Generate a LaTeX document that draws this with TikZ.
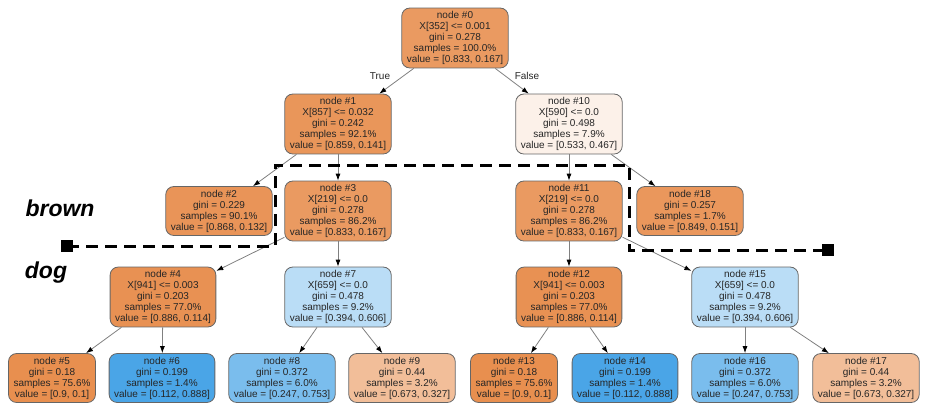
\documentclass[tikz,border=0pt]{standalone}
\usepackage{fontspec}
\setmainfont{Liberation Sans}
\usetikzlibrary{arrows.meta}
\definecolor{o80}{RGB}{234,154,97}
\definecolor{o84}{RGB}{233,150,90}
\definecolor{o85}{RGB}{233,148,88}
\definecolor{o82}{RGB}{234,151,92}
\definecolor{o87}{RGB}{232,145,83}
\definecolor{o89}{RGB}{232,143,79}
\definecolor{o51}{RGB}{242,190,153}
\definecolor{o12}{RGB}{252,241,233}
\definecolor{b35}{RGB}{186,221,246}
\definecolor{b67}{RGB}{122,189,237}
\definecolor{b87}{RGB}{74,165,231}
\tikzset{
  tnode/.style={draw=black!60, line width=0.8pt, rounded corners=8pt, align=center,
    inner xsep=5pt, inner ysep=3.3pt, font=\fontsize{10}{11}\selectfont, text=black!85},
  tedge/.style={draw=black!50, line width=0.8pt, -{Latex[length=7pt,width=5pt,color=black]}},
  elabel/.style={font=\fontsize{10}{11}\selectfont, text=black!85},
  sep/.style={draw=black, line width=3pt, dash pattern=on 12pt off 7pt},
  sq/.style={fill=black, minimum size=12pt, inner sep=0pt},
  word/.style={font=\fontsize{23}{23}\selectfont\bfseries\itshape}
}
\begin{document}
\begin{tikzpicture}[x=1pt,y=-1pt]
\useasboundingbox (0,0) rectangle (925,416);
\node[tnode, fill=o80] (n0) at (455,38) {node \#0\\X[352] <= 0.001\\gini = 0.278\\samples = 100.0\%\\value = [0.833, 0.167]};
\node[tnode, fill=o84] (n1) at (338,124) {node \#1\\X[857] <= 0.032\\gini = 0.242\\samples = 92.1\%\\value = [0.859, 0.141]};
\node[tnode, fill=o12] (n10) at (569,124) {node \#10\\X[590] <= 0.0\\gini = 0.498\\samples = 7.9\%\\value = [0.533, 0.467]};
\node[tnode, fill=o85] (n2) at (219,211) {node \#2\\gini = 0.229\\samples = 90.1\%\\value = [0.868, 0.132]};
\node[tnode, fill=o80] (n3) at (338,211) {node \#3\\X[219] <= 0.0\\gini = 0.278\\samples = 86.2\%\\value = [0.833, 0.167]};
\node[tnode, fill=o80] (n11) at (569,211) {node \#11\\X[219] <= 0.0\\gini = 0.278\\samples = 86.2\%\\value = [0.833, 0.167]};
\node[tnode, fill=o82] (n18) at (690,211) {node \#18\\gini = 0.257\\samples = 1.7\%\\value = [0.849, 0.151]};
\node[tnode, fill=o87] (n4) at (163,297) {node \#4\\X[941] <= 0.003\\gini = 0.203\\samples = 77.0\%\\value = [0.886, 0.114]};
\node[tnode, fill=b35] (n7) at (338,297) {node \#7\\X[659] <= 0.0\\gini = 0.478\\samples = 9.2\%\\value = [0.394, 0.606]};
\node[tnode, fill=o87] (n12) at (569,297) {node \#12\\X[941] <= 0.003\\gini = 0.203\\samples = 77.0\%\\value = [0.886, 0.114]};
\node[tnode, fill=b35] (n15) at (745,297) {node \#15\\X[659] <= 0.0\\gini = 0.478\\samples = 9.2\%\\value = [0.394, 0.606]};
\node[tnode, fill=o89] (n5) at (52,378) {node \#5\\gini = 0.18\\samples = 75.6\%\\value = [0.9, 0.1]};
\node[tnode, fill=b87] (n6) at (162,378) {node \#6\\gini = 0.199\\samples = 1.4\%\\value = [0.112, 0.888]};
\node[tnode, fill=b67] (n8) at (282,378) {node \#8\\gini = 0.372\\samples = 6.0\%\\value = [0.247, 0.753]};
\node[tnode, fill=o51] (n9) at (402,378) {node \#9\\gini = 0.44\\samples = 3.2\%\\value = [0.673, 0.327]};
\node[tnode, fill=o89] (n13) at (514,378) {node \#13\\gini = 0.18\\samples = 75.6\%\\value = [0.9, 0.1]};
\node[tnode, fill=b87] (n14) at (625,378) {node \#14\\gini = 0.199\\samples = 1.4\%\\value = [0.112, 0.888]};
\node[tnode, fill=b67] (n16) at (745,378) {node \#16\\gini = 0.372\\samples = 6.0\%\\value = [0.247, 0.753]};
\node[tnode, fill=o51] (n17) at (866,378) {node \#17\\gini = 0.44\\samples = 3.2\%\\value = [0.673, 0.327]};
\draw[tedge] (n0) -- (n1);
\draw[tedge] (n0) -- (n10);
\node[elabel] (lTrue) at (380,76) {True};
\node[elabel] (lFalse) at (527,76) {False};
\draw[tedge] (n1) -- (n2);
\draw[tedge] (n1) -- (n3);
\draw[tedge] (n10) -- (n11);
\draw[tedge] (n10) -- (n18);
\draw[tedge] (n3) -- (n4);
\draw[tedge] (n3) -- (n7);
\draw[tedge] (n11) -- (n12);
\draw[tedge] (n11) -- (n15);
\draw[tedge] (n4) -- (n5);
\draw[tedge] (n4) -- (n6);
\draw[tedge] (n7) -- (n8);
\draw[tedge] (n7) -- (n9);
\draw[tedge] (n12) -- (n13);
\draw[tedge] (n12) -- (n14);
\draw[tedge] (n15) -- (n16);
\draw[tedge] (n15) -- (n17);
\node[sq] (sqL) at (67,246) {};
\node[sq] (sqR) at (828,250) {};
\draw[sep] (sqL.center) -- (275,246) -- (275,165) -- (629,165) -- (629,250) -- (sqR.center);
\node[word] (brown) at (60,208) {brown};
\node[word] (dog) at (46,273) {dog};
\end{tikzpicture}
\end{document}
